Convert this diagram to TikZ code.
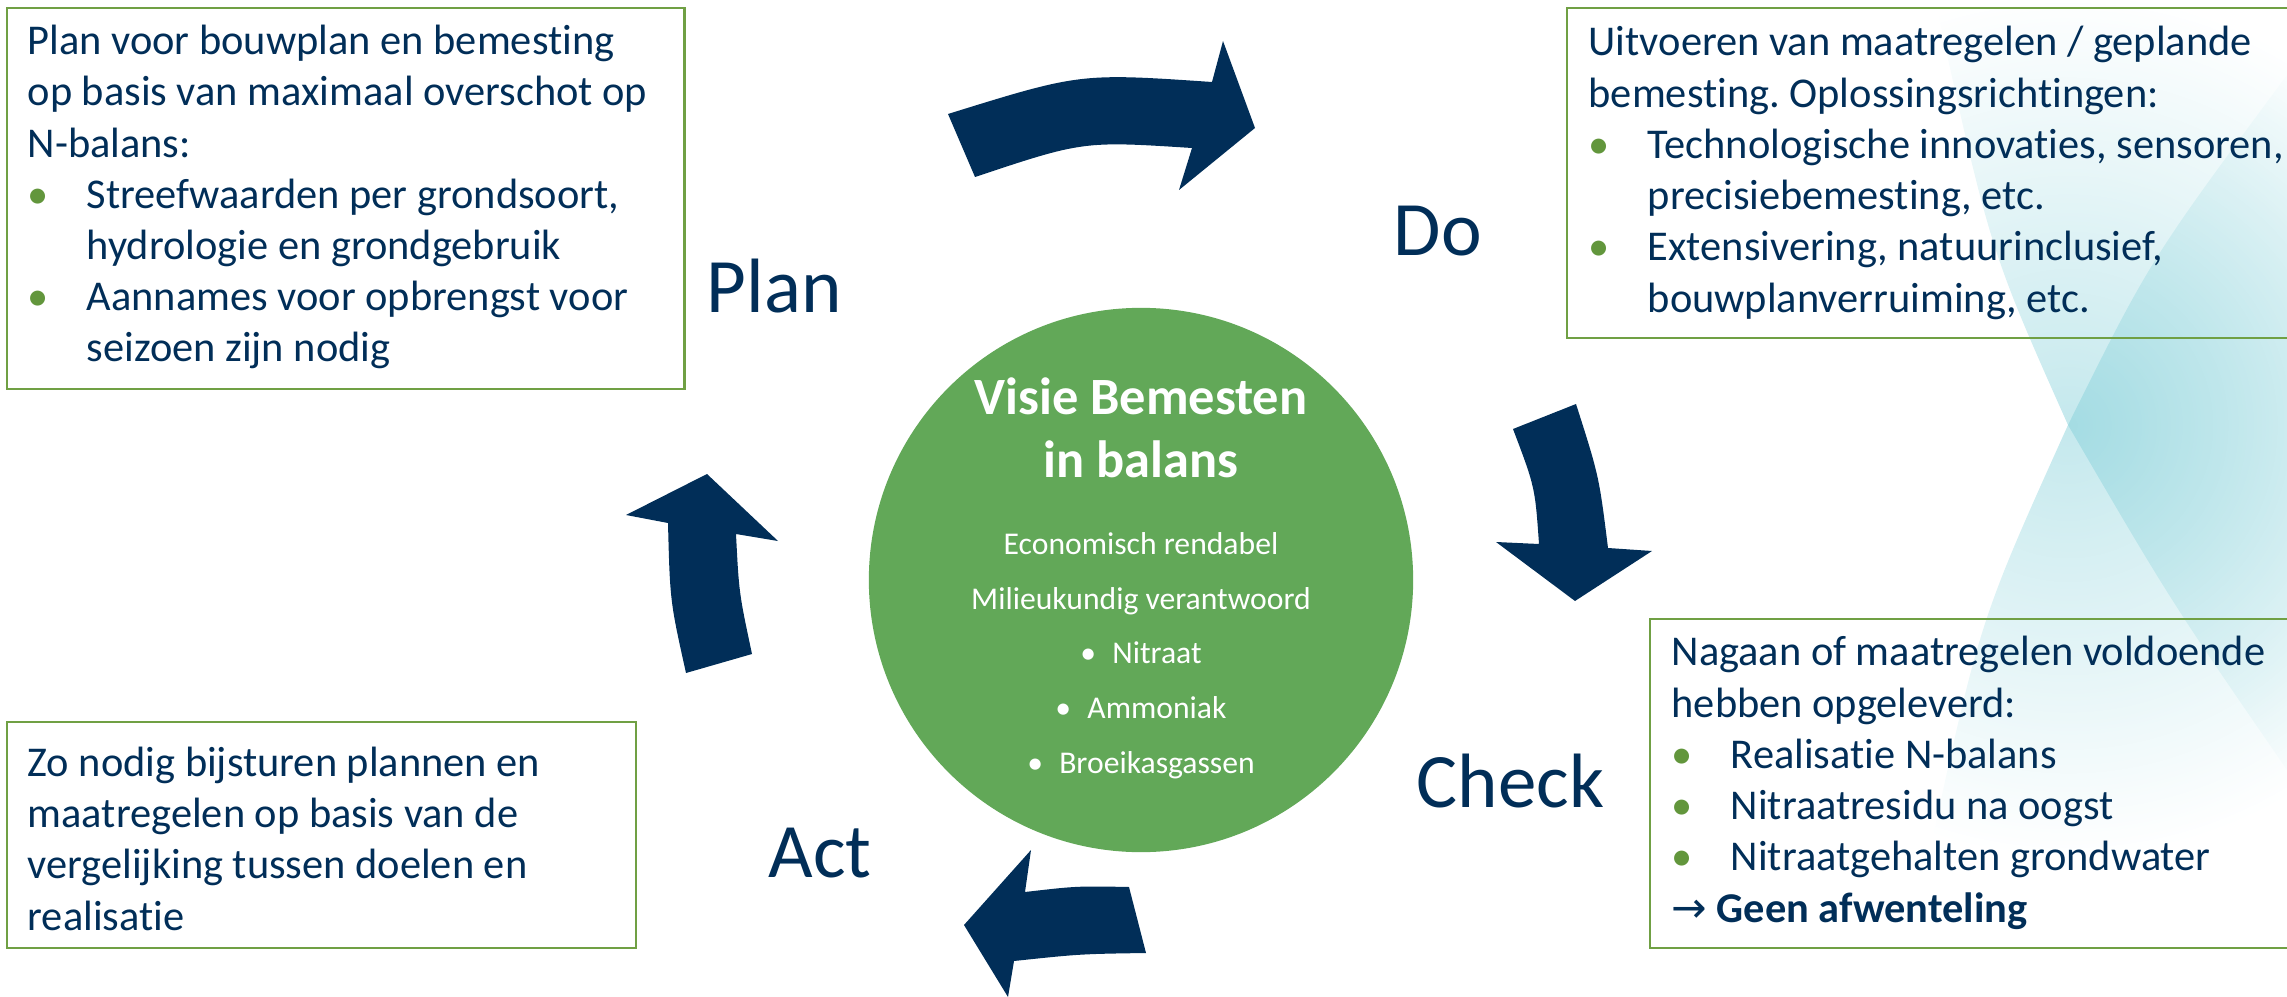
\documentclass[tikz,border=0pt]{standalone}
\usepackage{fontspec}
\setmainfont{Carlito}[Ligatures=NoCommon]
\newfontfamily\arrowfont{DejaVu Sans}
\usetikzlibrary{fadings}
\frenchspacing

\definecolor{pdcablue}{RGB}{1,46,88}
\definecolor{circlegreen}{RGB}{98,168,88}
\definecolor{framegreen}{RGB}{112,160,68}
\definecolor{dotgreen}{RGB}{98,150,60}
\definecolor{bgteal}{RGB}{125,205,215}

\tikzfading[name=glow, inner color=transparent!0, outer color=transparent!100]

\newcommand{\bul}{\makebox[0.59cm][l]{\textcolor{dotgreen}{•}}}
\newcommand{\ind}{\hspace*{0.59cm}}

\tikzset{
  infobox/.style={draw=framegreen, line width=0.6pt, anchor=north west, inner sep=0pt},
  boxtext/.style={text=pdcablue, font=\fontsize{12.06}{14.57}\selectfont, anchor=base west, inner sep=0pt, align=left},
  phase/.style={text=pdcablue, font=\fontsize{21.9}{26}\selectfont, anchor=base west, inner sep=0pt},
  cyclearrow/.style={fill=pdcablue},
  visiontext/.style={text=white, inner sep=0pt, anchor=base, align=center}
}

\begin{document}
\begin{tikzpicture}[x=0.01cm,y=-0.01cm]
    \useasboundingbox (0,0) rectangle (2287,997);
    
    % background
    \begin{scope}
    \clip (1935,0) .. controls (1990,250) .. (2068,425) .. controls (2170,600) .. (2287,770) -- (2287,0) -- cycle;
    \fill[bgteal, path fading=glow, fill opacity=0.45] (2068,425) circle (4.3cm);
    \end{scope}
    \begin{scope}
    \clip (2287,75) .. controls (2150,260) .. (2068,425) .. controls (1980,620) .. (1930,850) -- (1930,997) -- (2287,997) -- cycle;
    \fill[bgteal, path fading=glow, fill opacity=0.45] (2068,425) circle (4.3cm);
    \end{scope}
    
    \node[circle, fill=circlegreen, minimum size=5.44cm, inner sep=0pt] (vision) at (1141,580) {};
    % base = last line
    \node[visiontext, font=\fontsize{14.9}{17.64}\selectfont\bfseries] (visiontitle) at (1141,477) {Visie Bemesten\\in balans};
    \node[visiontext, font=\fontsize{9}{15.5}\selectfont] (visionlist) at (1141,773) {Economisch rendabel\\
        Milieukundig verantwoord\\
        \makebox[0.32cm][l]{•}Nitraat\\
        \makebox[0.32cm][l]{•}Ammoniak\\
        \makebox[0.32cm][l]{•}Broeikasgassen};
    
    \fill[cyclearrow] (948,114) .. controls (1080,73) .. (1212,82) -- (1223,41) -- (1255,128) -- (1179,190) -- (1192,148) .. controls (1083,141) .. (975,177) -- cycle;
    \fill[cyclearrow] (1513,429) -- (1576,404) .. controls (1599,476) .. (1608,548) -- (1652,551) -- (1575,601) -- (1496,542) -- (1539,544) .. controls (1535,487) .. (1513,429) -- cycle;
    \fill[cyclearrow] (1129,887) -- (1146,953) .. controls (1080,954) .. (1014,961) -- (1008,997) -- (964,925) -- (1031,850) -- (1025,892) .. controls (1077,886) .. (1129,887) -- cycle;
    \fill[cyclearrow] (686,673) -- (752,654) .. controls (739,593) .. (736,534) -- (778,541) -- (707,474) -- (626,515) -- (668,523) .. controls (670,601) .. (686,673) -- cycle;
    
    \node[phase] (plan) at (706,312) {Plan};
    \node[phase] (do) at (1393,255) {Do};
    \node[phase] (check) at (1416,807) {Check};
    \node[phase] (act) at (768,877) {Act};
    
    \node[infobox, minimum width=6.77cm, minimum height=3.81cm] (planbox) at (6,7) {};
    \node[boxtext] (plantext) at (27,362) {Plan voor bouwplan en bemesting\\
        op basis van maximaal overschot op\\
        N-balans:\\
        \bul Streefwaarden per grondsoort,\\
        \ind hydrologie en grondgebruik\\
        \bul Aannames voor opbrengst voor\\
        \ind seizoen zijn nodig};
    
    \node[infobox, minimum width=7.34cm, minimum height=3.30cm] (dobox) at (1566,7) {};
    \node[boxtext] (dotext) at (1588,312) {Uitvoeren van maatregelen / geplande\\
        bemesting. Oplossingsrichtingen:\\
        \bul Technologische innovaties, sensoren,\\
        \ind precisiebemesting, etc.\\
        \bul Extensivering, natuurinclusief,\\
        \ind bouwplanverruiming, etc.};
    
    \node[infobox, minimum width=6.51cm, minimum height=3.29cm] (checkbox) at (1649,618) {};
    \node[boxtext] (checktext) at (1671,922) {Nagaan of maatregelen voldoende\\
        hebben opgeleverd:\\
        \bul Realisatie N-balans\\
        \bul Nitraatresidu na oogst\\
        \bul Nitraatgehalten grondwater\\
        {\arrowfont →} \textbf{Geen afwenteling}};
    
    \node[infobox, minimum width=6.29cm, minimum height=2.26cm] (actbox) at (6,721) {};
    \node[boxtext] (acttext) at (27,930) {Zo nodig bijsturen plannen en\\
        maatregelen op basis van de\\
        vergelijking tussen doelen en\\
        realisatie};
    
\end{tikzpicture}
\end{document}
